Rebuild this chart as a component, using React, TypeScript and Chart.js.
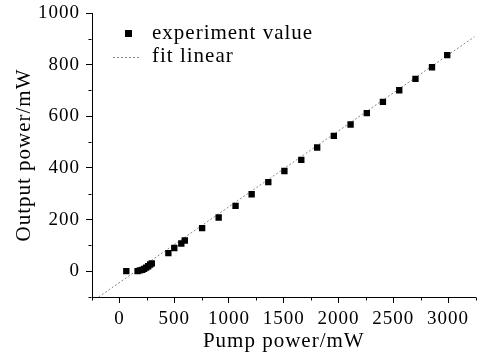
import React, { useEffect, useRef } from "react";
import { Chart, registerables } from "chart.js";

Chart.register(...registerables);

const pumpPower = [63, 166, 187, 208, 226, 244, 263, 281, 296, 447, 501, 565, 597, 755, 906, 1060, 1207, 1359, 1506, 1660, 1805, 1957, 2110, 2258, 2405, 2554, 2702, 2853, 2992];
const outputPower = [0, 0, 3, 5, 9, 14, 19, 26, 30, 70, 90, 107, 119, 167, 208, 253, 298, 345, 388, 431, 479, 524, 568, 612, 656, 701, 745, 790, 837];
const fitX = [-190, 3240];
const fitY = [-100, 908];
const xTicks = [0, 500, 1000, 1500, 2000, 2500, 3000];
const yTicks = [0, 200, 400, 600, 800, 1000];
const xMinor = [-250, 250, 750, 1250, 1750, 2250, 2750, 3250];
const yMinor = [-100, 100, 300, 500, 700, 900];
const legendLabels = ["experiment value", "fit linear"];

const FONT = "Liberation Serif";

export default function App() {
  const ref = useRef<HTMLCanvasElement | null>(null);
  useEffect(() => {
    document.body.style.margin = "0";
    const canvas = ref.current!;
    const spacing = {
      id: "spacing",
      beforeLayout(chart: any) {
        (chart.ctx as any).letterSpacing = "1px";
      },
      beforeDraw(chart: any) {
        (chart.ctx as any).letterSpacing = "1px";
      },
    };
    const extras = {
      id: "extras",
      afterDraw(chart: any) {
        const ctx = chart.ctx;
        const xs = chart.scales.x;
        const ys = chart.scales.y;
        ctx.save();
        ctx.strokeStyle = "#000";
        ctx.lineWidth = 1;
        ctx.beginPath();
        const ax = Math.round(ys.right) - 0.5;
        const ay = Math.round(xs.top) + 0.5;
        yMinor.forEach((v) => {
          const py = Math.round(ys.getPixelForValue(v)) + 0.5;
          ctx.moveTo(ax - 3, py);
          ctx.lineTo(ax, py);
        });
        xMinor.forEach((v) => {
          const px = Math.round(xs.getPixelForValue(v)) + 0.5;
          ctx.moveTo(px, ay);
          ctx.lineTo(px, ay + 3);
        });
        ctx.stroke();
        // legend
        ctx.fillStyle = "#000";
        ctx.fillRect(125, 30, 7, 7);
        ctx.strokeStyle = "#888";
        ctx.setLineDash([2, 2]);
        ctx.beginPath();
        ctx.moveTo(113, 57.5);
        ctx.lineTo(141, 57.5);
        ctx.stroke();
        ctx.setLineDash([]);
        ctx.font = `21px "${FONT}"`;
        ctx.textBaseline = "middle";
        ctx.textAlign = "left";
        (ctx as any).letterSpacing = "1px";
        ctx.fillText(legendLabels[0], 152, 33);
        ctx.fillText(legendLabels[1], 152, 56);
        ctx.restore();
      },
    };
    const chart = new Chart(canvas, {
      type: "scatter",
      data: {
        datasets: [
          {
            label: legendLabels[0],
            data: pumpPower.map((x, i) => ({ x, y: outputPower[i] })),
            pointStyle: "rect",
            pointRadius: 4.5,
            backgroundColor: "#000",
            borderColor: "#000",
            borderWidth: 0,
            showLine: false,
          },
          {
            label: legendLabels[1],
            type: "line",
            data: fitX.map((x, i) => ({ x, y: fitY[i] })),
            borderColor: "#888",
            borderWidth: 1,
            borderDash: [2, 2],
            pointRadius: 0,
            fill: false,
          } as any,
        ],
      },
      options: {
        animation: false,
        responsive: false,
        font: { family: FONT },
        layout: { padding: { left: 0, right: 2, top: 13, bottom: 0 } },
        plugins: { legend: { display: false }, tooltip: { enabled: false } },
        scales: {
          x: {
            type: "linear",
            min: -250,
            max: 3250,
            afterBuildTicks: (s: any) => {
              s.ticks = xTicks.map((v) => ({ value: v }));
            },
            afterFit: (s: any) => {
              s.height = 59;
              s.paddingLeft = 0;
              s.paddingRight = 0;
            },
            grid: { drawOnChartArea: false, tickLength: 6, color: "#000", tickColor: "#000" },
            border: { display: true, color: "#000", width: 1 },
            ticks: {
              color: "#000",
              font: { family: FONT, size: 19 },
              padding: 5,
              maxRotation: 0,
              autoSkip: false,
              callback: (v: any) => String(v),
            },
            title: { display: true, text: "Pump power/mW", color: "#000", font: { family: FONT, size: 21 }, padding: { top: 0, bottom: 2 } },
          },
          y: {
            type: "linear",
            min: -100,
            max: 1000,
            afterBuildTicks: (s: any) => {
              s.ticks = yTicks.map((v) => ({ value: v }));
            },
            afterFit: (s: any) => {
              s.width = 92;
              s.paddingTop = 0;
              s.paddingBottom = 0;
            },
            grid: { drawOnChartArea: false, tickLength: 6, color: "#000", tickColor: "#000" },
            border: { display: true, color: "#000", width: 1 },
            ticks: {
              color: "#000",
              font: { family: FONT, size: 19 },
              padding: 6,
              autoSkip: false,
              callback: (v: any) => String(v),
            },
            title: { display: true, text: "Output power/mW", color: "#000", font: { family: FONT, size: 21 }, padding: { top: 12, bottom: 0 } },
          },
        },
      },
      plugins: [spacing, extras],
    } as any);
    return () => chart.destroy();
  }, []);
  return (
    <div style={{ position: "absolute", left: 0, top: 0, width: 480, height: 356 }}>
      <canvas ref={ref} width={480} height={356} />
    </div>
  );
}
